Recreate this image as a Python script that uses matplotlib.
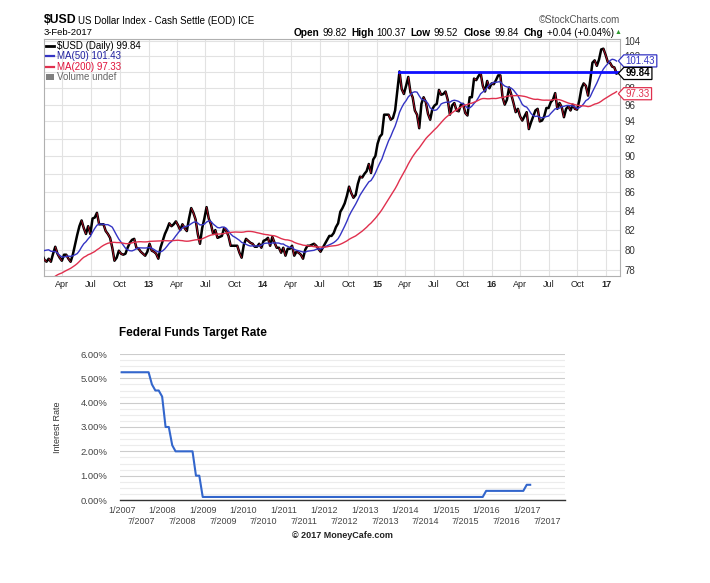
import numpy as np
import pandas as pd
import matplotlib
matplotlib.use("Agg")
import matplotlib.pyplot as plt
import matplotlib.dates as mdates
import matplotlib.transforms as mtransforms
from matplotlib.collections import LineCollection
from matplotlib.lines import Line2D
from matplotlib.patches import Patch
from matplotlib.path import Path
from matplotlib.ticker import FixedLocator, FixedFormatter, NullLocator, MultipleLocator, FuncFormatter

plt.rcParams['font.family'] = ['Liberation Sans', 'DejaVu Sans']

#------ DONNEES ----------------------------------------#
# $USD : cloture hebdomadaire (vendredi)
# 40 semaines avant la fenetre visible (pour la MA(200))
pre_closes = [72.9,
              73.9, 75.6, 75.6, 75.5,
              74.0, 74.1, 75.2, 75.8,
              74.4, 74.9, 75.0, 74.3, 73.6,
              74.7, 74.6, 74.0, 73.9,
              74.6, 77.1, 76.6, 78.3, 78.6,
              78.5, 76.8, 77.1, 75.7,
              76.9, 77.4, 77.7, 79.6,
              78.3, 78.8, 80.2, 79.9, 80.2,
              81.2, 81.5, 80.5, 79.5]
closes_2012 = [79.0, 78.8, 79.1, 78.8,
               79.6, 80.3, 79.6, 79.2, 78.9,
               79.5, 79.5, 79.1, 78.8,
               79.5, 80.5, 81.5, 82.4,
               83.0, 82.2, 81.6, 82.4, 81.6,
               83.2, 83.3, 83.8, 82.6,
               82.6, 82.6, 81.9, 81.6, 81.2,
               80.2, 78.9, 79.2, 79.9,
               79.6, 79.5, 79.6, 80.2,
               80.7, 81.0, 81.1, 80.2, 80.1,
               79.8, 79.6, 79.4, 79.8]
closes_2013 = [80.6, 79.9, 79.8, 79.6,
               79.1, 80.2, 80.9, 81.6,
               82.1, 82.7, 82.4, 82.6, 82.9,
               82.5, 82.0, 82.6, 82.2,
               81.9, 83.2, 84.3, 83.8, 83.1,
               81.6, 80.6, 82.2, 83.2,
               84.4, 83.2, 82.6, 81.6,
               82.0, 81.2, 81.3, 81.4, 82.2,
               81.9, 81.4, 80.4, 80.4,
               80.4, 80.4, 79.7, 79.2,
               80.5, 81.1, 80.9, 80.7, 80.6,
               80.3, 80.3, 80.6, 80.2]
closes_2014 = [80.9, 81.0, 81.2, 80.4, 81.3,
               80.7, 80.2, 80.2, 79.7,
               80.2, 79.4, 80.1, 80.1,
               80.4, 79.4, 79.8, 79.7,
               79.5, 79.1, 80.0, 80.4, 80.4,
               80.5, 80.6, 80.4, 80.1,
               79.8, 80.2, 80.6, 81.0,
               81.4, 81.4, 81.7, 82.3, 82.7,
               83.9, 84.3, 84.8, 85.6,
               86.6, 85.9, 85.4, 85.7, 86.9,
               87.7, 87.6, 88.0, 88.3,
               89.1, 88.1, 89.6, 90.0]
closes_2015 = [91.4, 92.2, 92.5, 94.8, 94.8,
               94.8, 94.2, 94.4, 95.3,
               97.7, 100.1, 97.9, 97.3,
               98.3, 99.4, 97.5, 96.9,
               95.3, 94.8, 93.2, 96.1, 96.9,
               96.3, 94.9, 94.2, 95.5,
               95.9, 96.1, 97.8, 97.2, 97.3,
               97.6, 96.6, 94.8, 95.9,
               96.2, 95.3, 95.2, 96.0,
               96.1, 95.0, 94.7, 96.9, 96.9,
               99.2, 99.0, 99.5, 99.9,
               98.3, 97.6, 98.9, 98.0]
closes_2016 = [98.6, 98.5, 99.0, 99.6, 99.6,
               96.9, 96.0, 96.6, 98.1,
               97.2, 96.2, 95.1, 95.5,
               94.6, 94.1, 94.6, 95.1, 93.1,
               93.9, 94.6, 95.3, 95.5,
               94.0, 94.1, 94.6, 95.6,
               95.6, 96.3, 96.6, 97.4, 95.5,
               96.2, 95.7, 94.5, 95.5,
               95.8, 95.3, 96.0, 95.5, 95.4,
               96.5, 98.0, 98.6, 98.3,
               97.1, 99.0, 101.2, 101.5,
               100.8, 101.6, 102.9, 103.0, 102.2]
closes_2017 = [101.3, 101.2, 100.7, 100.6, 99.84]

resist_level = 100.05          # ligne horizontale bleue
resist_start = '2015-03-13'

# Federal Funds Target Rate (points de la courbe)
fed_dates = ['2007-01-01', '2007-09-01', '2007-10-01', '2007-11-01', '2007-12-01',
             '2008-01-01', '2008-02-01', '2008-03-01', '2008-04-01', '2008-05-01',
             '2008-10-01', '2008-11-01', '2008-12-01', '2009-01-01', '2015-12-01',
             '2016-01-01', '2016-12-01', '2017-01-01', '2017-02-01']
fed_rates = [5.25, 5.25, 4.75, 4.50, 4.50,
             4.25, 3.00, 3.00, 2.25, 2.00,
             2.00, 1.00, 1.00, 0.125, 0.125,
             0.375, 0.375, 0.625, 0.625]
fed_years = list(range(2007, 2018))
#-------------------------------------------------------#

W, H = 710, 583
def fx(px): return px / W
def fy(py): return 1 - py / H

closes = pre_closes + closes_2012 + closes_2013 + closes_2014 + closes_2015 + closes_2016 + closes_2017
dates = pd.date_range('2011-04-29', periods=len(closes), freq='W-FRI')
px = pd.Series(closes, index=dates)
ma50 = px.rolling(10).mean()     # ~50 jours
ma200 = px.rolling(40).mean()    # ~200 jours

c_ma50 = '#3434c4'
c_ma200 = '#e0304e'
c_down = '#e0102f'

fig = plt.figure(figsize=(W / 100, H / 100), dpi=100)

# ---------------- graphique $USD ----------------
ax = fig.add_axes([fx(44), fy(276), fx(620) - fx(44), fy(39) - fy(276)])
ax.set_yscale('log')
xd = mdates.date2num(dates)
ax.plot(dates, closes, color='black', lw=1.8, zorder=3)
pts = np.column_stack([xd, closes])
segs = np.stack([pts[:-1], pts[1:]], axis=1)
down = np.diff(closes) < 0
ax.add_collection(LineCollection(segs[down], colors=c_down, linewidths=0.5, zorder=4))
ax.plot(dates, ma50, color=c_ma50, lw=1.0, zorder=5)
ax.plot(dates, ma200, color=c_ma200, lw=1.0, zorder=5)
ax.plot([pd.Timestamp(resist_start), pd.Timestamp('2017-03-20')], [resist_level, resist_level],
        color='#1010ff', lw=2.0, zorder=6, clip_on=False)

ax.set_xlim(pd.Timestamp('2012-02-02'), pd.Timestamp('2017-02-14'))
ax.set_ylim(77.4, 104.26)

qtr = pd.date_range('2012-04-01', '2017-01-01', freq='QS')
ax.set_xticks(qtr)
ax.set_xticklabels([d.strftime('%y') if d.month == 1 else d.strftime('%b') for d in qtr])
for lab, d in zip(ax.get_xticklabels(), qtr):
    if d.month == 1:
        lab.set_fontweight('bold')
        lab.set_fontsize(7)
ax.tick_params(axis='x', length=0, pad=3, labelsize=6.5, labelcolor='#222')

# le 100 est cache par l'etiquette 99.84 sur l'original
yt = list(range(78, 105, 2))
ax.yaxis.set_major_locator(FixedLocator(yt))
ax.yaxis.set_major_formatter(FixedFormatter(['' if v == 100 else str(v) for v in yt]))
ax.yaxis.set_minor_locator(NullLocator())
ax.yaxis.tick_right()
ax.tick_params(axis='y', length=0, pad=3, labelsize=7, labelcolor='#333')
ax.grid(True, color='#e2e2e2', lw=0.8)
ax.set_axisbelow(True)
for s in ax.spines.values():
    s.set_color('#b0b0b0')
    s.set_linewidth(0.8)

handles = [Line2D([], [], color='black', lw=2.0),
           Line2D([], [], color=c_ma50, lw=1.6),
           Line2D([], [], color=c_ma200, lw=1.6),
           Patch(facecolor='#808080')]
labels = [r'\$USD (Daily) 99.84', 'MA(50) 101.43', 'MA(200) 97.33', 'Volume undef']
leg = ax.legend(handles, labels, loc='upper left', frameon=False, fontsize=7,
                handlelength=0.8, handleheight=0.6, handletextpad=0.3,
                labelspacing=0.05, borderaxespad=0.1, borderpad=0.1)
for t, c in zip(leg.get_texts(), ['black', '#2020a0', '#e0103a', '#666666']):
    t.set_color(c)

# etiquettes a droite
def tag_box(x0, y0, width, height, mutation_size):
    pad = 0.18 * mutation_size
    x0, y0 = x0 - pad, y0 - pad * 0.6
    x1, y1 = x0 + width + 2 * pad, y0 + height + 1.2 * pad
    tip = 0.45 * (y1 - y0)
    verts = [(x0, y0), (x1, y0), (x1, y1), (x0, y1), (x0 - tip, (y0 + y1) / 2), (x0, y0)]
    return Path(verts, closed=True)

for val, txt, col, wt in [(101.43, '101.43', c_ma50, 'normal'),
                          (97.33, '97.33', c_ma200, 'normal'),
                          (99.84, '99.84', 'black', 'bold')]:
    ax.annotate(txt, xy=(1, val), xycoords=('axes fraction', 'data'), xytext=(4, 0),
                textcoords='offset points', ha='left', va='center', fontsize=7,
                color=col, fontweight=wt, annotation_clip=False, zorder=10,
                bbox=dict(boxstyle=tag_box, fc='white', ec=col, lw=0.9))

# en-tete
fig.text(fx(44), fy(20), r'\$USD', fontsize=8.8, fontweight='bold', va='center')
fig.text(fx(77.7), fy(21), 'US Dollar Index - Cash Settle (EOD) ICE', fontsize=7, va='center')
fig.text(fx(44), fy(32.7), '3-Feb-2017', fontsize=6.8, va='center')
fig.text(fx(620), fy(20), '\u00a9StockCharts.com', fontsize=7, va='center', ha='right', color='#555555')
for xp, txt, wt in [(294, 'Open', 'bold'), (322.7, '99.82', 'normal'),
                    (351.7, 'High', 'bold'), (376, '100.37', 'normal'),
                    (410.7, 'Low', 'bold'), (434, '99.52', 'normal'),
                    (464, 'Close', 'bold'), (495, '99.84', 'normal'),
                    (524, 'Chg', 'bold'), (546.7, '+0.04 (+0.04%)', 'normal')]:
    fig.text(fx(xp), fy(32.5), txt, fontsize=7.3 if wt == 'bold' else 7, fontweight=wt, va='center')
fig.text(fx(615), fy(32.5), '\u25b2', fontsize=5, color='#2e9a2e', va='center')

# ---------------- Federal Funds Target Rate ----------------
bx = fig.add_axes([fx(120), fy(500), fx(565) - fx(120), fy(354) - fy(500)])
bx.plot(pd.to_datetime(fed_dates), fed_rates, color='#3366cc', lw=1.5)
bx.set_ylim(0, 6)
bx.set_xlim(pd.Timestamp('2006-12-17'), pd.Timestamp('2017-12-12'))
bx.yaxis.set_major_locator(MultipleLocator(1))
bx.yaxis.set_minor_locator(MultipleLocator(0.25))
bx.yaxis.set_major_formatter(FuncFormatter(lambda v, p: '%.2f%%' % v))
bx.grid(which='major', axis='y', color='#cccccc', lw=0.8)
bx.grid(which='minor', axis='y', color='#ececec', lw=0.8)
bx.set_axisbelow(True)
for s in ['top', 'right', 'left']:
    bx.spines[s].set_visible(False)
bx.spines['bottom'].set_color('#333333')
bx.spines['bottom'].set_linewidth(1.0)
bx.tick_params(axis='y', which='both', length=0, pad=9, labelsize=6.8, labelcolor='#444444')
bx.set_xticks([])

tr = mtransforms.blended_transform_factory(bx.transData, bx.transAxes)
for yr in fed_years:
    bx.text(mdates.date2num(pd.Timestamp('%d-01-01' % yr)), -10.5 / 146, '1/%d' % yr, transform=tr,
            ha='center', va='center', fontsize=6.5, color='#444444')
    bx.text(mdates.date2num(pd.Timestamp('%d-07-01' % yr)), -21.5 / 146, '7/%d' % yr, transform=tr,
            ha='center', va='center', fontsize=6.5, color='#444444')

fig.text(fx(119), fy(333), 'Federal Funds Target Rate', fontsize=8.5, fontweight='bold', va='center')
fig.text(fx(58), fy(427), 'Interest Rate', fontsize=6.5, rotation=90, ha='center', va='center', color='#333333')
fig.text(fx(342.5), fy(536), '\u00a9 2017 MoneyCafe.com', fontsize=6.5, fontweight='bold', ha='center', va='center', color='#222222')

plt.savefig('out.png', dpi=100)
